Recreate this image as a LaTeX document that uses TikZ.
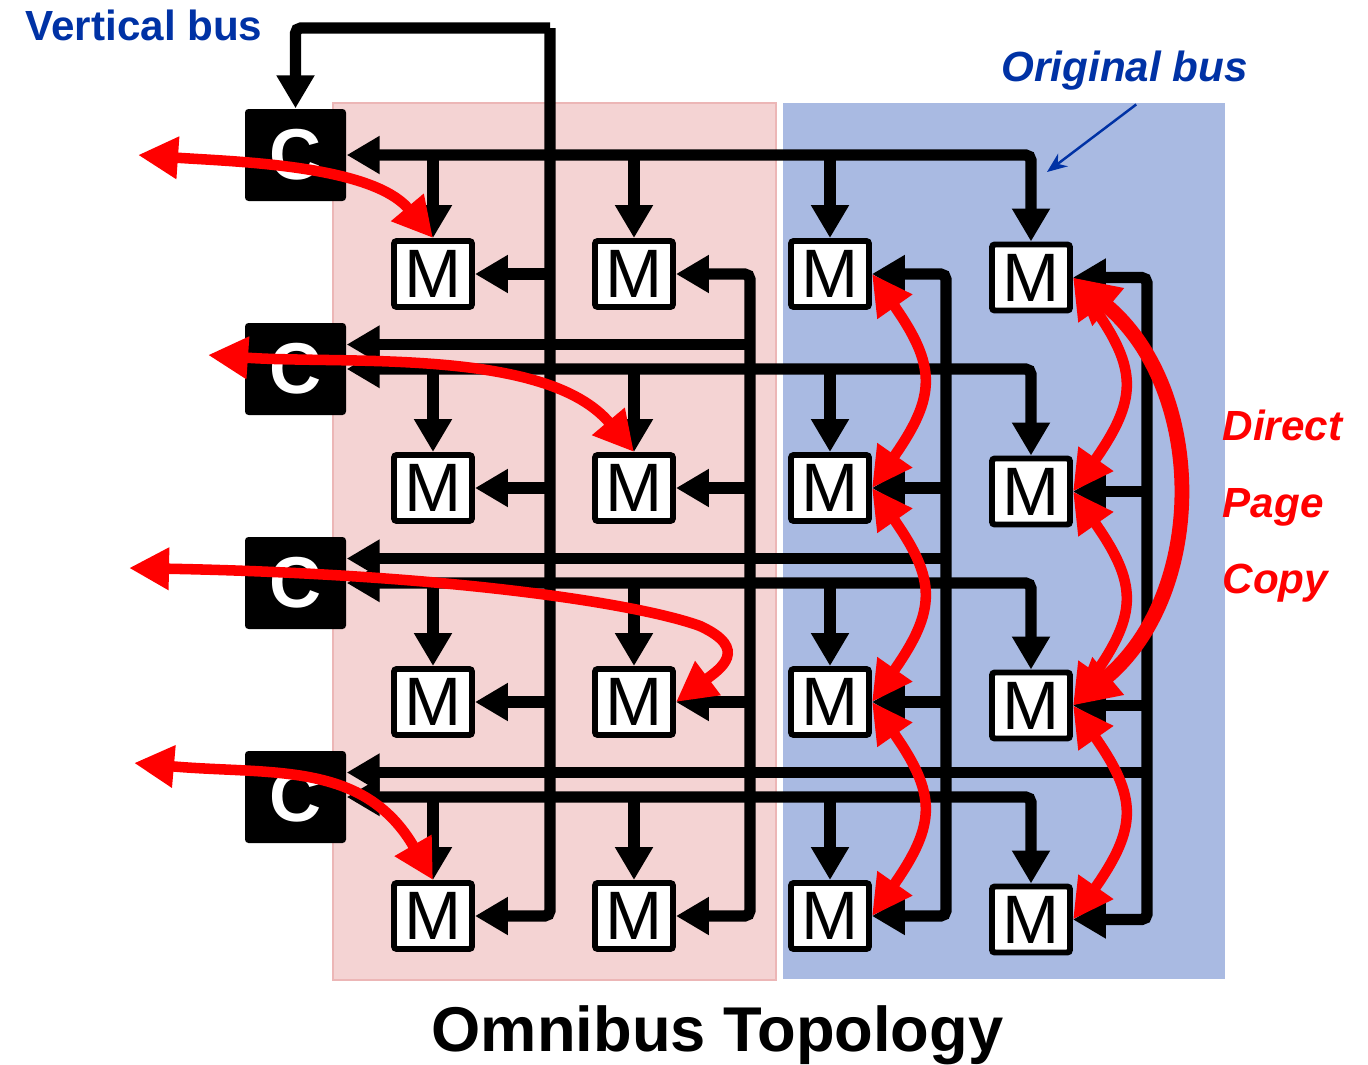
\documentclass[tikz,border=0pt]{standalone}
\usepackage{fontspec}
\setmainfont{Liberation Sans}
\usetikzlibrary{arrows.meta}

\definecolor{pinkbg}{RGB}{244,211,211}
\definecolor{pinkline}{RGB}{236,182,182}
\definecolor{bluebg}{RGB}{169,186,226}
\definecolor{labelblue}{RGB}{0,50,165}

\begin{document}
\begin{tikzpicture}[
    bus/.style={line width=3.2pt, rounded corners=1.5pt, >={Triangle[length=3.3mm,width=3.6mm]}},
    pagecopy/.style={red, line width=3pt, <->, >={Triangle[length=4mm,width=4mm]}},
    mbox/.style={draw, fill=white, line width=1.7pt, rounded corners=0.8pt, minimum width=0.78cm, minimum height=0.66cm, inner sep=0pt, font=\fontsize{19.5}{20}\selectfont},
    cbox/.style={fill=black, rounded corners=1pt, minimum width=1.01cm, minimum height=0.92cm, inner sep=0pt, text=white, font=\fontsize{20.5}{20}\selectfont\bfseries},
    tag/.style={anchor=base west, inner sep=0pt, font=\fontsize{12}{14}\selectfont\bfseries},
  ]
  % Canvas and the two bus regions
  \useasboundingbox (0,0) rectangle (13.68,10.64);
  \fill[pinkbg, draw=pinkline, line width=0.8pt] (3.33,0.84) rectangle (7.76,9.61);
  \fill[bluebg] (7.83,0.85) rectangle (12.25,9.61);

  % Controllers and memory modules
  \foreach \r/\y in {1/7.90, 2/5.76, 3/3.62, 4/1.48} {
    \node[cbox] (C\r) at (2.955, {\y+1.19}) {C};
    \foreach \c/\x/\dy in {1/4.33/0, 2/6.34/0, 3/8.30/0, 4/10.31/-0.035} {
      \node[mbox] (M\r\c) at (\x, {\y+\dy}) {M};
    }
  }

  % Original bus: each controller drives its own row
  \foreach \r in {1,...,4} {
    \draw[bus, <->] (C\r.east) -| (M\r4.north);
    \foreach \c in {1,2,3} {
      \draw[bus, ->] (C\r.east -| M\r\c.north) -- (M\r\c.north);
    }
  }

  % Vertical bus of column 1, back to the first controller
  \coordinate (V1) at (5.50,10.36);
  \draw[bus, ->] (V1) -| (C1.north);
  \draw[bus, ->] (V1) |- (M41.east);
  \foreach \r in {1,2,3} {
    \draw[bus, ->] (V1 |- M\r1.east) -- (M\r1.east);
  }

  % Vertical buses of columns 2-4, back to controllers 2-4
  \foreach \c in {2,3,4} {
    \coordinate (V\c) at ([xshift=0.74cm]M1\c.east);
    \coordinate (U\c) at ([yshift=0.245cm]C\c.east);
    \draw[bus, <->] (M1\c.east) -- (V\c) |- (M4\c.east);
    \draw[bus, <-] (U\c) -- (U\c -| V\c);
    \foreach \r in {2,3} {
      \draw[bus, ->] (V\c |- M\r\c.east) -- (M\r\c.east);
    }
  }

  % Direct page copy paths
  \coordinate (L1) at (1.38,9.09);
  \coordinate (L2) at (2.08,7.09);
  \coordinate (L3) at (1.29,4.96);
  \coordinate (L4) at (1.34,3.01);
  \draw[pagecopy] (L1) to[out=-4, in=130, looseness=0.8] (M11.north);
  \draw[pagecopy] (L2) to[out=-4, in=130, looseness=0.8] (M22.north);
  \draw[pagecopy] (L3) .. controls (4.5,4.9) and (6.4,4.6) .. (7.0,4.38)
    .. controls (7.5,4.15) and (7.2,3.95) .. (M32.east);
  \draw[pagecopy] (L4) to[out=-5, in=120, looseness=1.1] (M41.north);
  \foreach \c in {3,4} {
    \foreach \r/\s in {1/2, 2/3, 3/4} {
      \draw[pagecopy] (M\r\c.east) to[out=-55, in=55, looseness=1.35] (M\s\c.east);
    }
  }
  \draw[pagecopy, line width=4.2pt, >={Triangle[length=4.6mm,width=4.6mm]}]
    (M14.east) to[out=-40, in=40, looseness=1.05] (M34.east);

  % Labels
  \node[tag, text=labelblue] (vbus) at (0.25,10.24) {Vertical bus};
  \node[tag, text=labelblue, font=\fontsize{12}{14}\selectfont\bfseries\itshape] (obus) at (10.01,9.82) {Original bus};
  \coordinate (obtip) at (10.47,8.92);
  \draw[labelblue, line width=0.7pt, -{Stealth[length=2mm,width=1.6mm]}] ([shift={(0.115,-0.13)}]obus.south) -- (obtip);
  \node[tag, text=red, font=\fontsize{12}{14}\selectfont\bfseries\itshape] (direct) at (12.22,6.24) {Direct};
  \node[tag, text=red, font=\fontsize{12}{14}\selectfont\bfseries\itshape] (page) at (12.22,5.47) {Page};
  \node[tag, text=red, font=\fontsize{12}{14}\selectfont\bfseries\itshape] (copy) at (12.22,4.71) {Copy};
  \node[anchor=base, font=\fontsize{18}{20}\selectfont\bfseries] (title) at (7.175,0.13) {Omnibus Topology};
\end{tikzpicture}
\end{document}
